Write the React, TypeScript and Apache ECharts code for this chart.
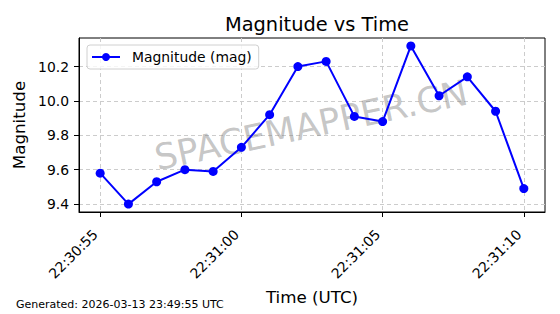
import React, { useEffect, useRef } from "react";
import * as echarts from "echarts";

const times = [
  "22:30:55", "22:30:56", "22:30:57", "22:30:58", "22:30:59", "22:31:00",
  "22:31:01", "22:31:02", "22:31:03", "22:31:04", "22:31:05", "22:31:06",
  "22:31:07", "22:31:08", "22:31:09", "22:31:10",
];
const magnitudes = [
  9.58, 9.40, 9.53, 9.60, 9.59, 9.73, 9.92, 10.20, 10.23, 9.91, 9.88, 10.32,
  10.03, 10.14, 9.94, 9.49,
];
const xTickLabels = ["22:30:55", "22:31:00", "22:31:05", "22:31:10"];
const yTicks = [9.4, 9.6, 9.8, 10.0, 10.2];

const toSec = (t: string) => {
  const [h, m, s] = t.split(":").map(Number);
  return h * 3600 + m * 60 + s;
};
const pad2 = (n: number) => String(n).padStart(2, "0");
const fmtSec = (v: number) => {
  const s = Math.round(v);
  return `${pad2(Math.floor(s / 3600))}:${pad2(Math.floor((s % 3600) / 60))}:${pad2(s % 60)}`;
};

const FONT = "DejaVu Sans";

export default function App() {
  const ref = useRef<HTMLDivElement>(null);
  useEffect(() => {
    if (!ref.current) return;
    const chart = echarts.init(ref.current, null, { renderer: "svg" });
    const xs = times.map(toSec);
    const xSpan = xs[xs.length - 1] - xs[0];
    const xMin = xs[0] - xSpan * 0.05;
    const xMax = xs[xs.length - 1] + xSpan * 0.05;
    const yLo = Math.min(...magnitudes);
    const yHi = Math.max(...magnitudes);
    const ySpan = yHi - yLo;
    const yMin = yLo - ySpan * 0.05;
    const yMax = yHi + ySpan * 0.05;

    chart.setOption({
      animation: false,
      backgroundColor: "#ffffff",
      textStyle: { fontFamily: FONT },
      title: {
        text: "Magnitude vs Time",
        left: 312,
        textAlign: "center",
        top: 10,
        textStyle: { fontFamily: FONT, fontSize: 19.4, fontWeight: "normal", color: "#000" },
      },
      legend: {
        left: 87,
        top: 45,
        orient: "vertical",
        backgroundColor: "rgba(255,255,255,0.8)",
        borderColor: "#d0d0d0",
        borderWidth: 1,
        borderRadius: 3,
        padding: [5, 7, 5, 4],
        itemWidth: 28,
        itemHeight: 10,
        textStyle: { fontFamily: FONT, fontSize: 13.9, color: "#000", padding: [0, 0, 0, 7] },
        data: ["Magnitude (mag)"],
      },
      grid: {
        left: 79,
        right: 15,
        top: 38,
        bottom: 102,
        show: true,
        borderColor: "#000",
        borderWidth: 1,
        backgroundColor: "transparent",
      },
      xAxis: {
        type: "value",
        min: xMin,
        max: xMax,
        name: "Time (UTC)",
        nameLocation: "middle",
        nameGap: 65,
        nameTextStyle: { fontFamily: FONT, fontSize: 16.7, color: "#000" },
        axisLine: { show: true, lineStyle: { color: "#000", width: 1 } },
        axisTick: {
          show: true,
          length: 5,
          lineStyle: { color: "#000" },
          customValues: xTickLabels.map(toSec),
        },
        axisLabel: {
          customValues: xTickLabels.map(toSec),
          formatter: (v: number) => fmtSec(v),
          rotate: 45,
          fontFamily: FONT,
          fontSize: 13.9,
          color: "#000",
          margin: 15,
          padding: [0, 7, 0, 0],
        },
        splitLine: { show: true, lineStyle: { color: "#cccccc", type: [4, 3], width: 1 } },
      },
      yAxis: {
        type: "value",
        min: yMin,
        max: yMax,
        name: "Magnitude",
        nameLocation: "middle",
        nameGap: 42,
        nameTextStyle: { fontFamily: FONT, fontSize: 16.7, color: "#000" },
        axisLine: { show: true, lineStyle: { color: "#000", width: 1 } },
        axisTick: {
          show: true,
          length: 5,
          lineStyle: { color: "#000" },
          customValues: yTicks,
        },
        axisLabel: {
          customValues: yTicks,
          formatter: (v: number) => v.toFixed(1),
          fontFamily: FONT,
          fontSize: 13.9,
          color: "#000",
          margin: 10,
        },
        splitLine: { show: true, lineStyle: { color: "#cccccc", type: [4, 3], width: 1 } },
      },
      graphic: [
        {
          type: "text",
          x: 311,
          y: 125,
          rotation: (12 * Math.PI) / 180,
          z: 1,
          silent: true,
          style: {
            text: "SPACEMAPPER.CN",
            fontFamily: FONT,
            fontSize: 35.5,
            fill: "rgba(128,128,128,0.45)",
            align: "center",
            verticalAlign: "middle",
          },
        },
        {
          type: "text",
          left: 16,
          top: 299,
          style: {
            text: "Generated: 2026-03-13 23:49:55 UTC",
            fontFamily: FONT,
            fontSize: 11,
            fill: "#000",
          },
        },
      ],
      series: [
        {
          name: "Magnitude (mag)",
          type: "line",
          data: xs.map((x, i) => [x, magnitudes[i]]),
          symbol: "circle",
          symbolSize: 9,
          z: 3,
          lineStyle: { color: "#0000ff", width: 2 },
          itemStyle: { color: "#0000ff" },
        },
      ],
    });
    return () => chart.dispose();
  }, []);
  return <div ref={ref} style={{ width: 560, height: 314, position: "absolute", left: 0, top: 0 }} />;
}
